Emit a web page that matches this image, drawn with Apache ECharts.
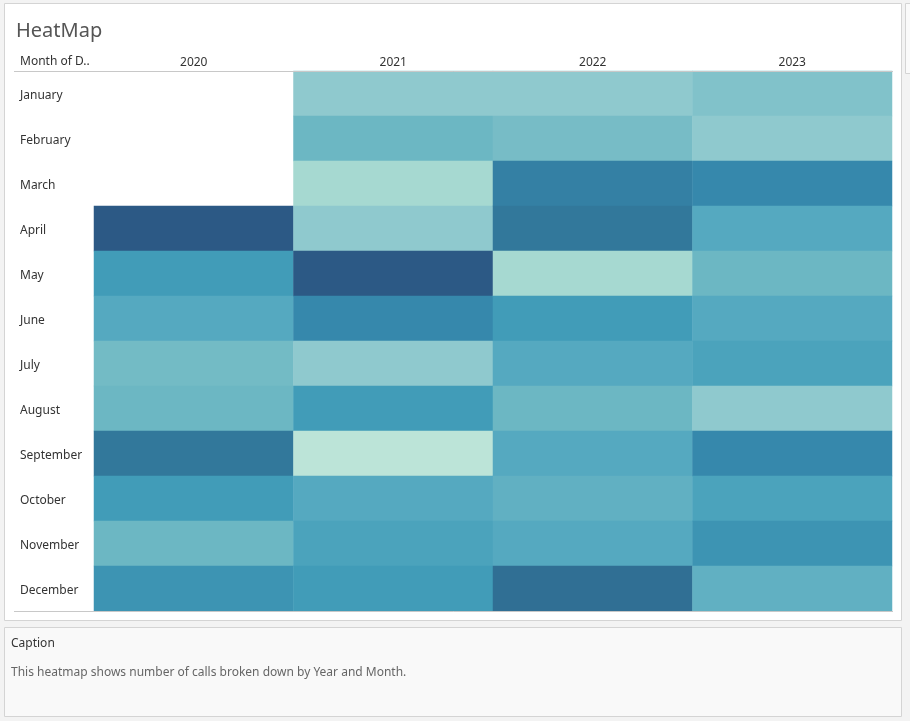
<!DOCTYPE html>
<html>
<head>
<meta charset="utf-8">
<script src="https://cdn.jsdelivr.net/npm/echarts@6/dist/echarts.min.js"></script>
<style>
html,body{margin:0;padding:0;background:#f3f3f3;}
#chart{width:910px;height:721px;}
</style>
</head>
<body>
<div id="chart"></div>
<script>
const years = ['2020', '2021', '2022', '2023'];
const months = ['January','February','March','April','May','June','July','August','September','October','November','December'];
// calls per month, columns = years (null = no data)
const calls2020 = [null, null, null, 140, 110, 100, 88, 90, 130, 110, 90, 114];
const calls2021 = [80, 90, 70, 80, 140, 120, 80, 110, 60, 100, 105, 110];
const calls2022 = [80, 87, 125, 130, 70, 110, 100, 90, 100, 95, 100, 133];
const calls2023 = [84, 80, 120, 100, 90, 100, 105, 80, 120, 105, 114, 95];
const palette = ['#bce4d8','#a6d9d1','#8fc9ce','#6cb7c3','#55a9c0','#419cb8','#3688ac','#32789b','#2c5985'];

const cols = [calls2020, calls2021, calls2022, calls2023];
const data = [];
cols.forEach((arr, xi) => arr.forEach((v, yi) => { if (v !== null) data.push([xi, yi, v]); }));

const font = 'Noto Sans';
const chart = echarts.init(document.getElementById('chart'));
chart.setOption({
  backgroundColor: '#f3f3f3',
  animation: false,
  textStyle: { fontFamily: font },
  graphic: [
    { type: 'rect', z: -10, shape: { x: 4.5, y: 3.5, width: 897, height: 617 }, style: { fill: '#ffffff', stroke: '#d4d4d4', lineWidth: 1 } },
    { type: 'rect', z: -10, shape: { x: 905.5, y: 3.5, width: 10, height: 70 }, style: { fill: '#fafafa', stroke: '#d4d4d4', lineWidth: 1 } },
    { type: 'rect', z: -10, shape: { x: 4.5, y: 627.5, width: 897, height: 89 }, style: { fill: '#f9f9f9', stroke: '#d4d4d4', lineWidth: 1 } },
    { type: 'line', z: 10, shape: { x1: 14, y1: 71.5, x2: 893, y2: 71.5 }, style: { stroke: '#c8c8c8', lineWidth: 1 } },
    { type: 'line', z: 10, shape: { x1: 14, y1: 611.5, x2: 893, y2: 611.5 }, style: { stroke: '#c8c8c8', lineWidth: 1 } },
    { type: 'text', left: 20, top: 56, style: { text: 'Month of D..', fontSize: 12, fill: '#333', fontFamily: font } },
    { type: 'text', left: 11, top: 638, style: { text: 'Caption', fontSize: 12, fill: '#333', fontFamily: font } },
    { type: 'text', left: 11, top: 667, style: { text: 'This heatmap shows number of calls broken down by Year and Month.', fontSize: 12, fill: '#666', fontFamily: font } }
  ],
  title: {
    text: 'HeatMap', left: 11, top: 16,
    textStyle: { fontSize: 20, fontWeight: 'normal', color: '#555', fontFamily: font }
  },
  grid: { left: 94, top: 71, width: 798, height: 540 },
  xAxis: {
    type: 'category', data: years, position: 'top',
    axisLine: { show: false }, axisTick: { show: false }, splitLine: { show: false },
    axisLabel: { color: '#333', fontSize: 12, margin: 2, fontFamily: font }
  },
  yAxis: {
    type: 'category', data: months, inverse: true,
    axisLine: { show: false }, axisTick: { show: false }, splitLine: { show: false },
    axisLabel: { color: '#333', fontSize: 12, align: 'left', margin: 74, fontFamily: font, verticalAlign: 'top', lineHeight: 4 }
  },
  visualMap: {
    show: false, type: 'continuous', min: 60, max: 140, dimension: 2,
    inRange: { color: palette }
  },
  series: [{
    type: 'heatmap', data: data,
    itemStyle: { borderWidth: 0 },
    emphasis: { disabled: true }
  }]
});
</script>
</body>
</html>
